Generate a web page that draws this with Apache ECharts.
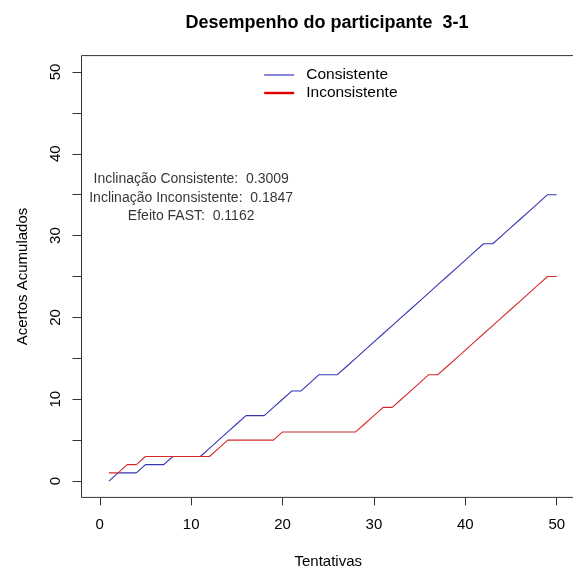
<!DOCTYPE html>
<html>
<head>
<meta charset="utf-8">
<script src="https://cdn.jsdelivr.net/npm/echarts@6/dist/echarts.min.js"></script>
<style>html,body{margin:0;padding:0;background:#fff}#c{width:573px;height:569px}</style>
</head>
<body>
<div id="c"></div>
<script>
const trials = [1,2,3,4,5,6,7,8,9,10,11,12,13,14,15,16,17,18,19,20,21,22,23,24,25,26,27,28,29,30,31,32,33,34,35,36,37,38,39,40,41,42,43,44,45,46,47,48,49,50];
const consistente = [0,1,1,1,2,2,2,3,3,3,3,4,5,6,7,8,8,8,9,10,11,11,12,13,13,13,14,15,16,17,18,19,20,21,22,23,24,25,26,27,28,29,29,30,31,32,33,34,35,35];
const inconsistente = [1,1,2,2,3,3,3,3,3,3,3,3,4,5,5,5,5,5,5,6,6,6,6,6,6,6,6,6,7,8,9,9,10,11,12,13,13,14,15,16,17,18,19,20,21,22,23,24,25,25];
const xTicks = [0,10,20,30,40,50];
const yTicks = [0,5,10,15,20,25,30,35,40,45,50];
const yLabels = [0,10,20,30,40,50];
const annotation = ['Inclinação Consistente:  0.3009','Inclinação Inconsistente:  0.1847','Efeito FAST:  0.1162'];
const annotationPos = [10,35];

const font = '"Liberation Sans", Arial, sans-serif';
const chart = echarts.init(document.getElementById('c'));
chart.setOption({
  animation: false,
  backgroundColor: '#fff',
  title: {
    text: 'Desempenho do participante  3-1',
    left: 327, top: 14, textAlign: 'center', padding: 0,
    textStyle: {fontFamily: font, fontSize: 18, fontWeight: 'bold', color: '#000'}
  },
  legend: {
    orient: 'vertical', left: 263, top: 66, padding: 0,
    itemWidth: 30, itemHeight: 14, itemGap: 0,
    itemStyle: {color: 'transparent', borderWidth: 0, opacity: 0},
    textStyle: {fontFamily: font, fontSize: 15.5, lineHeight: 18, color: '#000', padding: [0,0,0,7]},
    data: [
      {name: 'Consistente', lineStyle: {width: 1.2, color: '#3434c0'}},
      {name: 'Inconsistente', lineStyle: {width: 2.4, color: '#e00000'}}
    ]
  },
  grid: {left: 81.5, top: 55.6, width: 493.5, height: 441.8, outerBoundsMode: 'none', containLabel: false,
    show: true, borderColor: '#333', borderWidth: 1, backgroundColor: 'transparent'},
  xAxis: {
    type: 'value', min: -2, max: 52,
    name: 'Tentativas', nameLocation: 'middle', nameGap: 57,
    nameTextStyle: {fontFamily: font, fontSize: 15, color: '#000'},
    axisLine: {show: false, onZero: false},
    axisTick: {show: true, customValues: xTicks, length: 8, lineStyle: {color: '#333'}},
    axisLabel: {customValues: xTicks, margin: 20, fontFamily: font, fontSize: 15, color: '#000'},
    splitLine: {show: false}
  },
  yAxis: {
    type: 'value', min: -2, max: 52,
    name: 'Acertos Acumulados', nameLocation: 'middle', nameGap: 51, nameRotate: 90,
    nameTextStyle: {fontFamily: font, fontSize: 15, color: '#000'},
    axisLine: {show: false, onZero: false},
    axisTick: {show: true, customValues: yTicks, length: 9, lineStyle: {color: '#333'}},
    axisLabel: {customValues: yLabels, margin: 18, rotate: 90, fontFamily: font, fontSize: 15, color: '#000'},
    splitLine: {show: false}
  },
  series: [
    {name: 'Consistente', type: 'line', symbol: 'none', color: '#3434b4',
     lineStyle: {width: 1.1, color: '#3434b4'},
     data: trials.map((t,i) => [t, consistente[i]])},
    {name: 'Inconsistente', type: 'line', symbol: 'none', color: '#d42a2a',
     lineStyle: {width: 1.1, color: '#d42a2a'},
     data: trials.map((t,i) => [t, inconsistente[i]])},
    {name: 'anot', type: 'scatter', symbolSize: 0, silent: true,
     data: [annotationPos],
     label: {show: true, position: 'inside', formatter: annotation.join('\n'),
       fontFamily: font, fontSize: 14, lineHeight: 18.5, color: '#000', textBorderWidth: 0,
       align: 'center', verticalAlign: 'middle', offset: [0, 3]}}
  ]
});
</script>
</body>
</html>
